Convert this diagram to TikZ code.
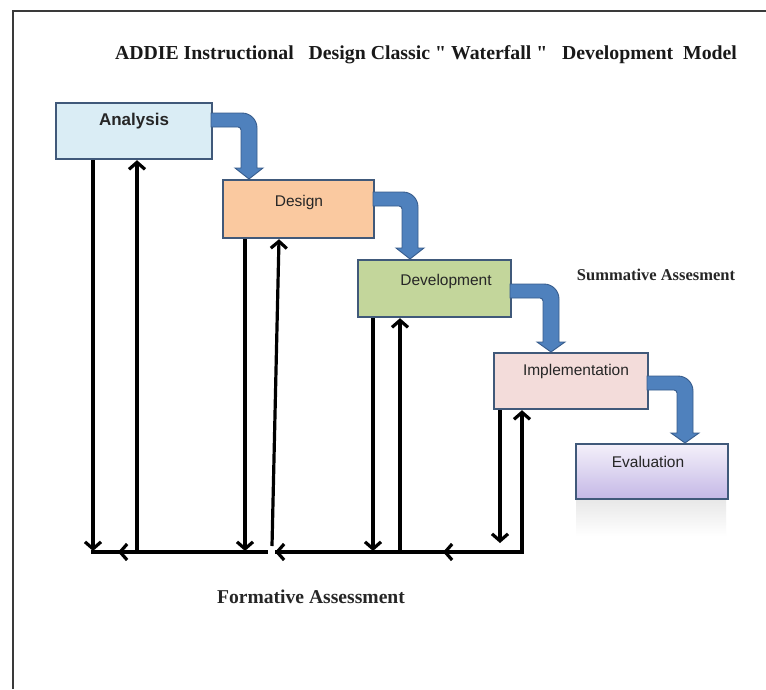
\documentclass[tikz,border=0pt]{standalone}
\usepackage{fontspec}
\setmainfont{Liberation Serif}
\newfontfamily\quotefont{Liberation Serif}
\newfontfamily\arialfont{Liberation Sans}
\usetikzlibrary{arrows.meta}
\definecolor{frameC}{HTML}{3A3A3A}
\definecolor{boxBorder}{HTML}{40597A}
\definecolor{anaFill}{HTML}{DAEDF5}
\definecolor{desFill}{HTML}{FAC9A0}
\definecolor{devFill}{HTML}{C3D69B}
\definecolor{impFill}{HTML}{F3DCDA}
\definecolor{evaTop}{HTML}{F4F0FA}
\definecolor{evaBot}{HTML}{C4B8E6}
\definecolor{flowFill}{HTML}{4F81BD}
\definecolor{flowLine}{HTML}{375C8C}
\newcommand{\straightq}{{\quotefont\bfseries"}}
\newcommand{\bluebend}[5]{%
  \filldraw[flowarrow] (#1,{#2-7}) -- ({#3+8-15},{#2-7})
    arc[start angle=-90,end angle=0,radius=15] -- ({#3+8},#4) -- ({#3+14},#4)
    -- (#3,#5) -- ({#3-14},#4) -- ({#3-8},#4) -- ({#3-8},{#2+7+3})
    arc[start angle=0,end angle=-90,radius=3] -- (#1,{#2+7}) -- cycle;}
\begin{document}
\begin{tikzpicture}[x=1pt,y=-1pt,
  phase/.style={draw=boxBorder, line width=2.2pt, inner sep=0pt, anchor=north west},
  lbl/.style={font=\arialfont\fontsize{15.5}{17}\selectfont, text=black!85},
  flowarrow/.style={fill=flowFill, draw=flowLine, line width=0.9pt},
  fb/.style={line width=3.2pt, draw=black, -{Straight Barb[length=7pt,width=16pt]}},
  fl/.style={line width=3.2pt, draw=black}]
\useasboundingbox (0,0) rectangle (766,689);
\fill[white] (0,0) rectangle (766,689);
% frame
\draw[line width=2pt, frameC] (13,689) -- (13,11) -- (766,11);
% title
\node[font=\bfseries\fontsize{19.8}{22}\selectfont, text=black!90] (title) at (426,55)
  {ADDIE Instructional\ \ \ Design Classic \straightq\ Waterfall \straightq\ \ \ Development\ \ Model};
% reflection under Evaluation
\shade[top color=black!9, bottom color=white] (576,500) rectangle (726,536);
% boxes
\node[phase, fill=anaFill, minimum width=156pt, minimum height=56pt] (ana) at (55,102) {};
\node[phase, fill=desFill, minimum width=151pt, minimum height=58pt] (des) at (222,179) {};
\node[phase, fill=devFill, minimum width=153pt, minimum height=57pt] (dev) at (357,259) {};
\node[phase, fill=impFill, minimum width=154pt, minimum height=56pt] (imp) at (493,352) {};
\node[phase, top color=evaTop, bottom color=evaBot, minimum width=152pt, minimum height=55pt] (eva) at (575,443) {};
% labels
\node[lbl, font=\arialfont\bfseries\fontsize{17}{19}\selectfont] (anaT) at (134,121) {Analysis};
\node[lbl] (desT) at (299,202) {Design};
\node[lbl] (devT) at (446,281) {Development};
\node[lbl] (impT) at (576,371) {Implementation};
\node[lbl] (evaT) at (648,462) {Evaluation};
\node[font=\bfseries\fontsize{16.5}{18}\selectfont, text=black!85] (summ) at (656,275) {Summative Assesment};
\node[font=\bfseries\fontsize{19.6}{22}\selectfont, text=black!85] (form) at (311,597) {Formative Assessment};
% blue flow arrows
\bluebend{211}{120}{249}{168}{179}
\bluebend{373}{199}{410}{248}{259}
\bluebend{510}{291}{551}{342}{352}
\bluebend{647}{383}{685}{433}{443}
% bottom feedback coordinates
\coordinate (b1) at (93,552);
\coordinate (b2) at (137,552);
\coordinate (b3) at (245,552);
\coordinate (b4) at (268,552);
\coordinate (b5) at (275,552);
\coordinate (b6) at (373,552);
\coordinate (b7) at (400,552);
\coordinate (b8) at (443,552);
\coordinate (b9) at (522,552);
% vertical feedback arrows
\draw[fb] (ana.south -| b1) -- ([yshift=1pt]b1);
\draw[fb] (b2) -- (ana.south -| b2);
\draw[fb] (des.south -| b3) -- ([yshift=1pt]b3);
\draw[fb] (272,546) -- (279,0 |- des.south);
\draw[fb] (dev.south -| b6) -- ([yshift=1pt]b6);
\draw[fb] (b7) -- (dev.south -| b7);
\draw[fb] (imp.south -| 500,0) -- (500,543);
\draw[fb] (b9) -- (imp.south -| b9);
% horizontal return line
\draw[fl] ([xshift=-1.6pt]b1) -- (b4);
\draw[fl] (b5) -- ([xshift=1.6pt]b9);
\draw[fb] ([xshift=40pt]b1) -- ([xshift=25pt]b1);
\draw[fb] ([xshift=15pt]b5) -- (b5);
\draw[fb] ([xshift=15pt]b8) -- (b8);
\end{tikzpicture}
\end{document}
